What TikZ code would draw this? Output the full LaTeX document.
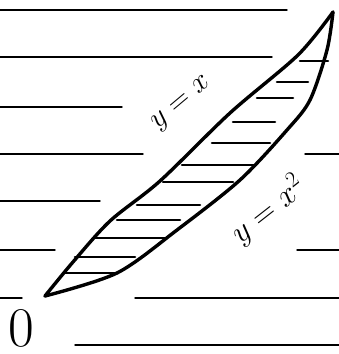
\RequirePackage{fix-cm}
\documentclass[tikz,border=0pt]{standalone}
\begin{document}
\begin{tikzpicture}[x=1pt,y=-1pt,line cap=round,line join=round]
    \useasboundingbox (0,0) rectangle (339,354);
    % ruled paper
    \foreach \ya/\xa/\xb in {10/0/287, 57/0/272, 107/0/122, 154/0/143, 154/305/339,
        201/0/100, 250/0/55, 250/297/339, 298/0/22, 298/135/339, 345/75/339}
        \draw[line width=1.4pt] (\xa,\ya) -- (\xb,\ya);
    % region between the curves
    \draw[line width=3.4pt] plot[smooth] coordinates {(45,296) (73,262) (110,221) (160,181) (230,113) (298,55) (333,12)};
    \draw[line width=3.4pt] plot[smooth] coordinates {(45,296) (117,273) (177,230) (240,180) (287,130) (310,100) (327,50) (333,12)};
    \foreach \ya/\xa/\xb in {61/300/328, 82/277/308, 98/257/293, 122/233/275, 143/212/270,
        165/182/255, 182/163/233, 205/137/200, 220/117/180, 238/95/165, 257/75/135, 273/63/117}
        \draw[line width=2.6pt] (\xa,\ya) -- (\xb,\ya);
    \node[rotate=40] (lblline) at (182,104) {\fontsize{30}{30}\selectfont$y=x$};
    \node[rotate=38] (lblpar) at (268,210) {\fontsize{32}{32}\selectfont$y=x^2$};
    \node[inner sep=0pt] (origin) at (21,328) {\fontsize{56}{56}\selectfont 0};
\end{tikzpicture}
\end{document}
